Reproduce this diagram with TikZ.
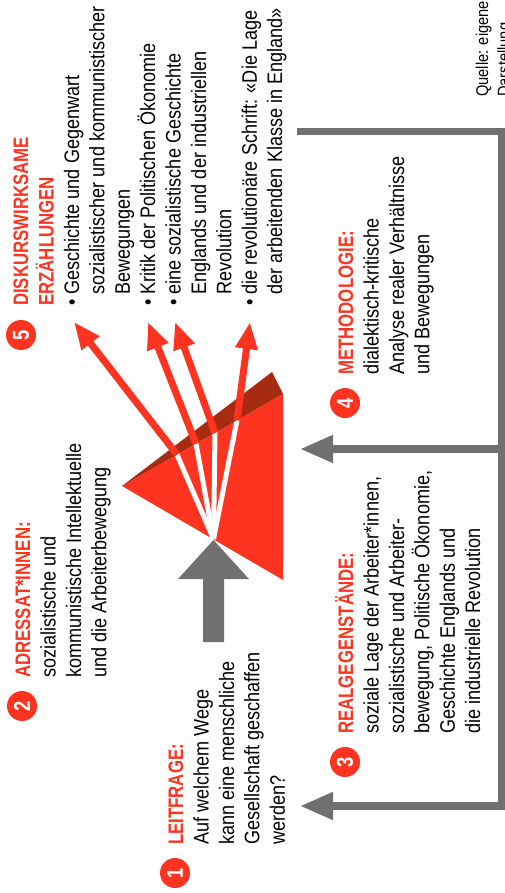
\documentclass[tikz,border=0pt]{standalone}
\usepackage{fontspec}
\setmainfont{Liberation Sans}[FakeStretch=0.86, BoldFeatures={FakeStretch=0.8}]
\usetikzlibrary{arrows.meta,calc}
\definecolor{prismred}{HTML}{FF3420}
\definecolor{prismdark}{HTML}{A62B10}
\definecolor{framegray}{HTML}{707070}
\newcommand\redhead[1]{\textcolor{prismred}{\bfseries #1}}
\newcommand\firststrut{\rule{0pt}{20pt}}
\newcommand\bul{\textbullet\ }
\newcommand\nobul{\phantom{\textbullet\ }}
\begin{document}
\begin{tikzpicture}[x=1pt,y=1pt,
  txt/.style={rotate=90, anchor=north west, inner sep=0pt, align=left,
    font=\fontsize{21}{25.4}\selectfont, text=black},
  srctxt/.style={rotate=90, anchor=north west, inner sep=0pt, align=left,
    font=\fontsize{17}{21.5}\selectfont, text=black},
  numdot/.style={circle, fill=prismred, minimum size=30pt, inner sep=0pt,
    text=white, font=\bfseries\fontsize{23}{23}\selectfont, rotate=90},
  framearrow/.style={draw=framegray, line width=7.5pt,
    -{Triangle[length=33pt,width=26pt]}},
  ray/.style={draw=white, line width=5pt},
  redarrow/.style={draw=prismred, line width=7pt,
    -{Triangle[length=27pt,width=21pt]}},
]
\useasboundingbox (0,0) rectangle (505,-893);
\clip (0,0) rectangle (505,-893);

% ---- gray frame with arrows ----
\coordinate (fA) at (297,-131.5);
\coordinate (fB) at (502,-131.5);
\coordinate (fC) at (502,-806);
\coordinate (fD) at (300,-806);
\coordinate (fM) at (502,-449);
\coordinate (fN) at (300,-449);
\draw[framearrow] (fA) -- (fB) -- (fC) -- (fD);
\draw[framearrow] (fM) -- (fN);

% ---- prism ----
\coordinate (pL) at (122,-486);
\coordinate (pT) at (283,-394);
\coordinate (pB) at (283,-580);
\coordinate (pK) at (272,-372);
\coordinate (src) at (213.5,-539);
\fill[prismred] (pL) -- (pT) -- (pB) -- cycle;
\fill[prismdark] (pL) -- (pK) -- (pT) -- cycle;

\coordinate (e1) at (177,-454.6);
\coordinate (e2) at (196,-443.7);
\coordinate (e3) at (215,-432.9);
\coordinate (e4) at (237,-420.3);
\coordinate (t1) at (74,-322);
\coordinate (t2) at (148,-322);
\coordinate (t3) at (175,-322);
\coordinate (t4) at (250,-322);

\begin{scope}
  \clip (pL) -- (pT) -- (pB) -- cycle;
  \foreach \e in {e1,e2,e3,e4} {
    \draw[ray] (src) -- ($(src)!1.15!(\e)$);
  }
\end{scope}
\foreach \e/\t in {e1/t1,e2/t2,e3/t3,e4/t4} {
  \draw[redarrow] (\e) -- (\t);
}

% ---- big gray arrow ----
\fill[framegray] (213.5,-540) -- (249,-579) -- (224,-579) -- (224,-642)
  -- (203,-642) -- (203,-579) -- (178,-579) -- cycle;

% ---- number dots ----
\node[numdot] (n1) at (175,-873) {1};
\node[numdot] (n2) at (22,-706) {2};
\node[numdot] (n3) at (345,-762) {3};
\node[numdot] (n4) at (345,-403) {4};
\node[numdot] (n5) at (21,-335) {5};

% ---- text blocks ----
\node[txt] (b1) at (163,-845) {\firststrut\redhead{LEITFRAGE:}\\
Auf welchem Wege\\
kann eine menschliche\\
Gesellschaft geschaffen\\
werden?};

\node[txt] (b2) at (10,-678) {\firststrut\redhead{ADRESSAT*INNEN:}\\
sozialistische und\\
kommunistische Intellektuelle\\
und die Arbeiterbewegung};

\node[txt] (b3) at (333,-734) {\firststrut\redhead{REALGEGENSTÄNDE:}\\
soziale Lage der Arbeiter*innen,\\
sozialistische und Arbeiter-\\
bewegung, Politische Ökonomie,\\
Geschichte Englands und\\
die industrielle Revolution};

\node[txt] (b4) at (333,-375) {\firststrut\redhead{METHODOLOGIE:}\\
dialektisch-kritische\\
Analyse realer Verhältnisse\\
und Bewegungen};

\node[txt] (b5) at (8,-306) {\firststrut\redhead{DISKURSWIRKSAME}\\
\redhead{ERZÄHLUNGEN}\\
\bul Geschichte und Gegenwart\\
\nobul sozialistischer und kommunistischer\\
\nobul Bewegungen\\
\bul Kritik der Politischen Ökonomie\\
\bul eine sozialistische Geschichte\\
\nobul Englands und der industriellen\\
\nobul Revolution\\
\bul die revolutionäre Schrift: «Die Lage\\
\nobul der arbeitenden Klasse in England»};

\node[srctxt] (q) at (472,-97) {\rule{0pt}{16pt}Quelle: eigene\\Darstellung};
\end{tikzpicture}
\end{document}
